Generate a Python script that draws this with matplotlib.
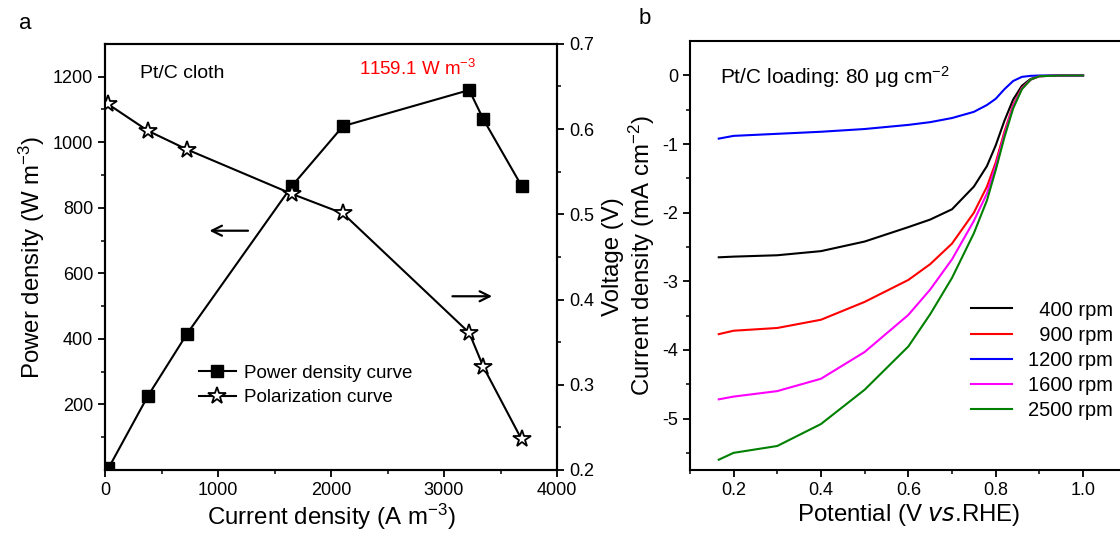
import matplotlib
matplotlib.use('Agg')
import matplotlib.pyplot as plt
import numpy as np

plt.rcParams.update({
    'font.family': ['Liberation Sans', 'DejaVu Sans'],
    'font.size': 12,
    'axes.linewidth': 1.5,
    'axes.unicode_minus': False,
    'xtick.major.width': 1.3,
    'ytick.major.width': 1.3,
    'xtick.minor.width': 1.1,
    'ytick.minor.width': 1.1,
    'xtick.major.size': 5,
    'ytick.major.size': 5,
    'xtick.minor.size': 3,
    'ytick.minor.size': 3,
    'mathtext.default': 'regular',
})

# ── panel a: fuel cell performance ──
cur_density = [30, 380, 727, 1653, 2106, 3223, 3348, 3686]
power_density = [5, 226, 416, 866, 1049, 1159.1, 1070, 867]
voltage = [0.629, 0.598, 0.576, 0.524, 0.501, 0.361, 0.321, 0.236]

# ── panel b: LSV curves ──
pot = [0.166, 0.2, 0.3, 0.4, 0.5, 0.6, 0.65, 0.7, 0.75, 0.78, 0.8, 0.82, 0.84, 0.86, 0.88, 0.9, 0.95, 1.0]
j_400 = [-2.65, -2.64, -2.62, -2.56, -2.42, -2.21, -2.10, -1.95, -1.62, -1.32, -1.02, -0.66, -0.35, -0.15, -0.05, -0.01, 0, 0]
j_900 = [-3.77, -3.72, -3.68, -3.56, -3.30, -2.98, -2.75, -2.45, -2.00, -1.62, -1.27, -0.82, -0.43, -0.18, -0.06, -0.01, 0, 0]
j_1200 = [-0.92, -0.88, -0.85, -0.82, -0.78, -0.72, -0.68, -0.62, -0.53, -0.43, -0.34, -0.20, -0.08, -0.02, -0.005, 0, 0, 0]
j_1600 = [-4.72, -4.68, -4.60, -4.42, -4.03, -3.49, -3.12, -2.68, -2.12, -1.72, -1.32, -0.86, -0.45, -0.19, -0.06, -0.01, 0, 0]
j_2500 = [-5.60, -5.50, -5.40, -5.08, -4.58, -3.95, -3.48, -2.95, -2.30, -1.82, -1.38, -0.90, -0.48, -0.20, -0.06, -0.01, 0, 0]
RPM_LABELS = ['  400 rpm', '  900 rpm', '1200 rpm', '1600 rpm', '2500 rpm']
RPM_COLORS = ['black', 'red', 'blue', 'magenta', 'green']

fig = plt.figure(figsize=(11.2, 5.35), dpi=100)

# ═══════ panel a ═══════
ax = fig.add_axes([0.09375, 0.1215, 0.4036, 0.7965])
ax.plot(cur_density, power_density, color='black', lw=1.5, marker='s', ms=9,
        label='Power density curve')
ax.set_xlim(0, 4000)
ax.set_ylim(0, 1300)
ax.set_xticks([0, 1000, 2000, 3000, 4000])
ax.set_xticks(np.arange(500, 4000, 1000), minor=True)
ax.set_yticks([200, 400, 600, 800, 1000, 1200])
ax.set_yticks(np.arange(100, 1300, 200), minor=True)
ax.set_xlabel('Current density (A m$^{-3}$)', fontsize=17.3, labelpad=2)
ax.set_ylabel('Power density (W m$^{-3}$)', fontsize=17.3, labelpad=4)
ax.tick_params(labelsize=13)

ax2 = ax.twinx()
ax2.plot(cur_density, voltage, color='black', lw=1.5, marker='*', ms=13,
         markerfacecolor='white', markeredgewidth=1.3, label='Polarization curve')
ax2.set_ylim(0.2, 0.7)
ax2.set_yticks([0.2, 0.3, 0.4, 0.5, 0.6, 0.7])
ax2.set_yticks(np.arange(0.25, 0.7, 0.1), minor=True)
ax2.set_ylabel('Voltage (V)', fontsize=17.3, labelpad=6)
ax2.tick_params(labelsize=13)

ax.annotate('', xy=(900, 730), xytext=(1290, 730),
            arrowprops=dict(arrowstyle='->', lw=1.6, color='black', mutation_scale=18))
ax.annotate('', xy=(3450, 530), xytext=(3050, 530),
            arrowprops=dict(arrowstyle='->', lw=1.6, color='black', mutation_scale=18))
ax.text(310, 1210, 'Pt/C cloth', fontsize=14, va='center')
ax.text(2250, 1225, '1159.1 W m$^{-3}$', fontsize=13.5, color='red', va='center')

h1, l1 = ax.get_legend_handles_labels()
h2, l2 = ax2.get_legend_handles_labels()
ax.legend(h1 + h2, l1 + l2, loc='lower left', bbox_to_anchor=(0.17, 0.11),
          frameon=False, fontsize=13.5, handlelength=2, handletextpad=0.4, labelspacing=0.4)
fig.text(0.017, 0.945, 'a', fontsize=16)

# ═══════ panel b ═══════
bx = fig.add_axes([0.616, 0.1215, 0.39, 0.8015])
for j, lab, c in zip([j_400, j_900, j_1200, j_1600, j_2500], RPM_LABELS, RPM_COLORS):
    bx.plot(pot, j, color=c, lw=1.5, label=lab)
bx.set_xlim(0.1, 1.1)
bx.set_ylim(-5.75, 0.5)
bx.set_xticks([0.2, 0.4, 0.6, 0.8, 1.0])
bx.set_xticks(np.arange(0.1, 1.1, 0.2), minor=True)
bx.set_yticks([0, -1, -2, -3, -4, -5])
bx.set_yticks(np.arange(-5.5, 0.5, 1.0), minor=True)
bx.set_xticklabels(['0.2', '0.4', '0.6', '0.8', '1.0'])
bx.set_xlabel('Potential (V $\\it{vs}$.RHE)', fontsize=17.3, labelpad=2)
bx.set_ylabel('Current density (mA cm$^{-2}$)', fontsize=17.3, labelpad=4)
bx.tick_params(labelsize=13)
bx.text(0.17, -0.02, 'Pt/C loading: 80 μg cm$^{-2}$', fontsize=15, va='center')
bx.legend(loc='lower right', bbox_to_anchor=(1.01, 0.075), frameon=False, fontsize=14.5,
          handlelength=2.0, handletextpad=0.8, labelspacing=0.3)
fig.text(0.57, 0.955, 'b', fontsize=16)

fig.savefig('out.png', dpi=100)
